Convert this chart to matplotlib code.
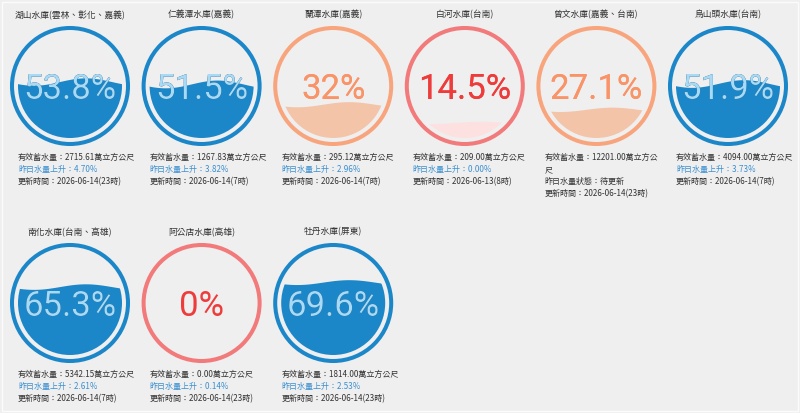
import numpy as np
import matplotlib
matplotlib.use('Agg')
import matplotlib.pyplot as plt
from matplotlib.patches import Circle, Polygon, Rectangle

# reservoir data
names = ['湖山水庫(雲林、彰化、嘉義)', '仁義潭水庫(嘉義)', '蘭潭水庫(嘉義)', '白河水庫(台南)',
         '曾文水庫(嘉義、台南)', '烏山頭水庫(台南)', '南化水庫(台南、高雄)', '阿公店水庫(高雄)',
         '牡丹水庫(屏東)']
percent = [53.8, 51.5, 32, 14.5, 27.1, 51.9, 65.3, 0, 69.6]
storage = ['2715.61', '1267.83', '295.12', '209.00', '12201.00', '4094.00', '5342.15', '0.00', '1814.00']
change = ['4.70%', '3.82%', '2.96%', '0.00%', None, '3.73%', '2.61%', '0.14%', '2.53%']
updated = ['2026-06-14(23時)', '2026-06-14(7時)', '2026-06-14(7時)', '2026-06-13(8時)',
           '2026-06-14(23時)', '2026-06-14(7時)', '2026-06-14(7時)', '2026-06-14(23時)',
           '2026-06-14(23時)']

W, H = 800, 413
BG = '#efefef'
CJK = ['Noto Sans CJK TC', 'DejaVu Sans']

# ring, water, text, text-in-water
palette = {
    'blue': ('#1b87c9', '#1b87c9', '#0e3c5e', '#a6daf6'),
    'orange': ('#f8a57e', '#f4c4a9', '#f99468', '#f99468'),
    'red': ('#f27a7a', '#fde1e0', '#ee3b3b', '#ee3b3b'),
}


def status(p):
    if p >= 50:
        return 'blue'
    if p >= 20:
        return 'orange'
    return 'red'


fig = plt.figure(figsize=(W / 100, H / 100), dpi=100)
fig.patch.set_facecolor(BG)
fig.patches.append(Rectangle((2 / W, 2 / H), 1 - 4 / W, 1 - 4 / H, transform=fig.transFigure,
                             fill=False, edgecolor='#fbfbfb', lw=1))

R_RING, R_FILL, HALF = 58, 52, 64

for i, name in enumerate(names):
    col, row = i % 6, i // 6
    cx = 70 + 131.6 * col
    cy = 86 + 217 * row
    ring_c, water_c, txt_c, txt_in = palette[status(percent[i])]

    ax = fig.add_axes([(cx - HALF) / W, 1 - (cy + HALF) / H, 2 * HALF / W, 2 * HALF / H])
    ax.set_xlim(-HALF, HALF)
    ax.set_ylim(-HALF, HALF)
    ax.axis('off')

    ax.add_patch(Circle((0, 0), R_RING, fill=False, edgecolor=ring_c, lw=2.9))

    p = percent[i] / 100
    level = -R_FILL + 2 * R_FILL * p
    amp = 4 * (1 - abs(p - 0.5) * 2)
    xs = np.linspace(-R_FILL - 2, R_FILL + 2, 120)
    ys = level + amp * np.sin(2 * np.pi * xs / (2 * R_FILL) + 0.6)
    pts = np.column_stack([np.r_[xs, xs[-1], xs[0]], np.r_[ys, -R_FILL - 5, -R_FILL - 5]])
    clip = Circle((0, 0), R_FILL, transform=ax.transData)
    if p > 0:
        water = Polygon(pts, closed=True, facecolor=water_c, edgecolor='none')
        ax.add_patch(water)
        water.set_clip_path(clip)

    label = f'{percent[i]:g}%'
    ax.text(0, -13, label, ha='center', va='baseline', fontsize=25,
            family='Roboto', color=txt_c)
    if p > 0:
        wclip = Polygon(pts, closed=True, transform=ax.transData)
        t2 = ax.text(0, -13, label, ha='center', va='baseline', fontsize=25,
                     family='Roboto', color=txt_in)
        t2.set_clip_path(wclip)

    # title
    fig.text(cx / W, 1 - (cy - 71) / H, name, ha='center', va='center',
             fontsize=6.3, family=CJK, color='#333333')

    # info lines
    lines = []
    s = f'有效蓄水量：{storage[i]}萬立方公尺'
    if len(storage[i]) > 7:
        lines.append((s[:-1], '#333333'))
        lines.append((s[-1], '#333333'))
    else:
        lines.append((s, '#333333'))
    if change[i] is None:
        lines.append(('昨日水量狀態：待更新', '#333333'))
    else:
        lines.append((f'昨日水量上升：{change[i]}', '#3a8fd0'))
    lines.append((f'更新時間：{updated[i]}', '#333333'))
    for k, (txt, c) in enumerate(lines):
        fig.text((cx - 52) / W, 1 - (cy + 71 + 12.3 * k) / H, txt, ha='left', va='center',
                 fontsize=5.8, family=CJK, color=c)

fig.savefig('out.png', dpi=100, facecolor=BG)
